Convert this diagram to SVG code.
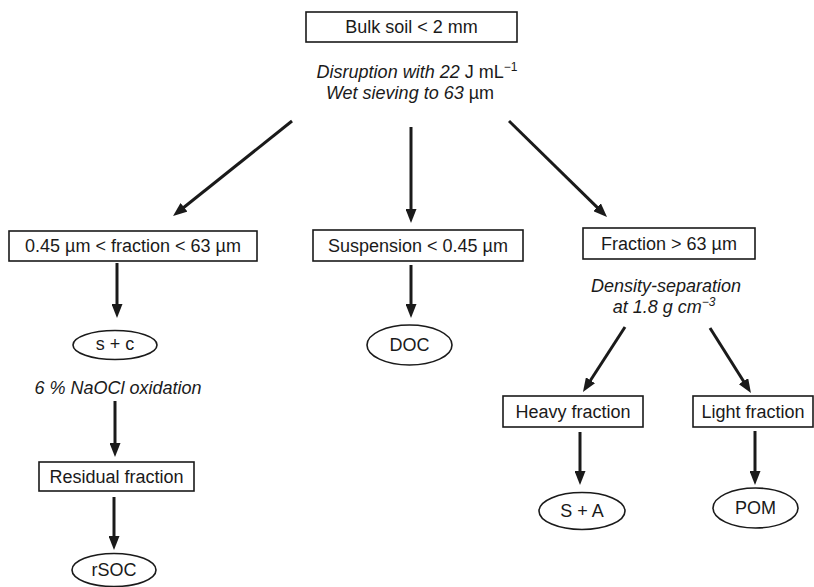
<svg xmlns="http://www.w3.org/2000/svg" width="814" height="587" viewBox="0 0 814 587">
<style>
text{font-family:"Liberation Sans",Arial,sans-serif;font-size:18px;fill:#1a1a1a;text-anchor:middle}
.it{font-style:italic}
.box{fill:#fff;stroke:#1a1a1a;stroke-width:1.6}
.ell{fill:#fff;stroke:#1a1a1a;stroke-width:1.6}
.arr{stroke:#1a1a1a;stroke-width:3;fill:none;marker-end:url(#ah)}
</style>
<defs>
<marker id="ah" markerUnits="userSpaceOnUse" markerWidth="14" markerHeight="11" viewBox="0 0 14 11" refX="6" refY="5.5" orient="auto">
<path d="M0,0 L14,5.5 L0,11 z" fill="#1a1a1a"/>
</marker>
</defs>
<rect width="814" height="587" fill="#fff"/>
<g id="connectors">
<line class="arr" x1="292" y1="121" x2="179.3" y2="211"/>
<line class="arr" x1="411" y1="127" x2="411" y2="215"/>
<line class="arr" x1="509" y1="121" x2="601.3" y2="211.4"/>
<line class="arr" x1="117" y1="263" x2="117" y2="310"/>
<line class="arr" x1="115" y1="401" x2="115" y2="449"/>
<line class="arr" x1="114" y1="497" x2="114" y2="542"/>
<line class="arr" x1="411" y1="265" x2="411" y2="310"/>
<line class="arr" x1="625" y1="327" x2="587.3" y2="385.3"/>
<line class="arr" x1="710" y1="328" x2="746.7" y2="386.2"/>
<line class="arr" x1="580" y1="432" x2="580" y2="477"/>
<line class="arr" x1="755" y1="431" x2="755" y2="477"/>
</g>
<g id="bulk">
<rect class="box" x="306" y="12" width="211" height="30"/>
<text x="411.5" y="33">Bulk soil &lt; 2 mm</text>
</g>
<g id="disruption-label">
<text x="417" y="78"><tspan class="it">Disruption with 22</tspan> J mL<tspan dy="-7" font-size="12">−1</tspan></text>
<text x="410" y="99"><tspan class="it">Wet sieving to 63</tspan> µm</text>
</g>
<g id="fine">
<rect class="box" x="9" y="231" width="248" height="30"/>
<text x="133" y="252">0.45 µm &lt; fraction &lt; 63 µm</text>
</g>
<g id="sc">
<ellipse class="ell" cx="115" cy="345" rx="42" ry="14.5"/>
<text x="115" y="350" font-size="15">s + c</text>
</g>
<g id="naocl-label">
<text class="it" x="118" y="394">6 % NaOCl oxidation</text>
</g>
<g id="residual">
<rect class="box" x="39" y="462" width="155" height="29"/>
<text x="116.5" y="483">Residual fraction</text>
</g>
<g id="rsoc">
<ellipse class="ell" cx="114" cy="570" rx="42" ry="16.5"/>
<text x="114" y="576">rSOC</text>
</g>
<g id="suspension">
<rect class="box" x="313" y="230" width="210" height="31"/>
<text x="418" y="252">Suspension &lt; 0.45 µm</text>
</g>
<g id="doc">
<ellipse class="ell" cx="409.5" cy="345" rx="42.5" ry="20"/>
<text x="409.5" y="351">DOC</text>
</g>
<g id="coarse">
<rect class="box" x="583" y="228" width="172" height="31"/>
<text x="669" y="250">Fraction &gt; 63 µm</text>
</g>
<g id="density-label">
<text class="it" x="666" y="292">Density-separation</text>
<text class="it" x="664" y="313">at 1.8 g cm<tspan dy="-7" font-size="12">−3</tspan></text>
</g>
<g id="heavy">
<rect class="box" x="503" y="396" width="140" height="31"/>
<text x="573" y="418">Heavy fraction</text>
</g>
<g id="light">
<rect class="box" x="693" y="396" width="120" height="31"/>
<text x="753" y="418">Light fraction</text>
</g>
<g id="sa">
<ellipse class="ell" cx="582" cy="511" rx="43" ry="18.5"/>
<text x="582" y="517">S + A</text>
</g>
<g id="pom">
<ellipse class="ell" cx="755.5" cy="508" rx="42.5" ry="20"/>
<text x="755.5" y="514">POM</text>
</g>
</svg>
